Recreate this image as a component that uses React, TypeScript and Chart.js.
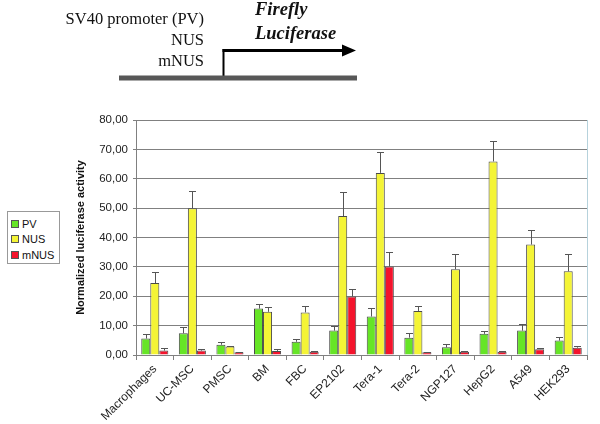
import React, { useEffect, useRef } from "react";
import { Chart, registerables } from "chart.js";

Chart.register(...registerables);

const categories = ["Macrophages", "UC-MSC", "PMSC", "BM", "FBC", "EP2102", "Tera-1", "Tera-2", "NGP127", "HepG2", "A549", "HEK293"];
const seriesNames = ["PV", "NUS", "mNUS"];
const pvValues = [5.6, 7.4, 3.5, 15.8, 4.5, 8.3, 13.1, 5.9, 2.6, 7.2, 8.3, 4.9];
const pvErrors = [1.6, 2.0, 0.9, 1.6, 1.0, 1.5, 2.9, 1.7, 1.0, 1.1, 2.3, 1.2];
const nusValues = [24.5, 50.0, 2.9, 14.7, 14.5, 47.3, 62.0, 15.0, 29.2, 65.9, 37.6, 28.5];
const nusErrors = [3.9, 5.8, 0.3, 1.8, 2.2, 8.3, 7.2, 1.7, 5.2, 7.1, 4.8, 5.9];
const mnusValues = [1.5, 1.5, 0.9, 1.4, 1.1, 19.9, 30.1, 0.9, 1.1, 1.1, 2.0, 2.5];
const mnusErrors = [0.8, 0.5, 0.2, 0.6, 0.4, 2.4, 4.9, 0.2, 0.1, 0.3, 0.4, 0.7];
const yTicks = [0, 10, 20, 30, 40, 50, 60, 70, 80];
const colors = ["#66e526", "#f4f436", "#f4132c"];
const yTitle = "Normalized luciferase activity";

const errorArrays = [pvErrors, nusErrors, mnusErrors];

const errorBarPlugin = {
  id: "errorBars",
  afterDatasetsDraw(chart: any) {
    const ctx = chart.ctx;
    const yScale = chart.scales.y;
    chart.data.datasets.forEach((ds: any, i: number) => {
      const meta = chart.getDatasetMeta(i);
      const errs = errorArrays[i];
      meta.data.forEach((bar: any, j: number) => {
        const v = ds.data[j];
        const yTop = Math.round(yScale.getPixelForValue(v + errs[j])) + 0.5;
        const x = Math.round(bar.x) + 0.5;
        ctx.save();
        ctx.strokeStyle = "#555";
        ctx.lineWidth = 1;
        ctx.beginPath();
        ctx.moveTo(x, bar.y);
        ctx.lineTo(x, yTop);
        ctx.moveTo(x - 3.5, yTop);
        ctx.lineTo(x + 3.5, yTop);
        ctx.stroke();
        ctx.restore();
      });
    });
  },
};

const borderPlugin = {
  id: "plotBorder",
  afterDraw(chart: any) {
    const { ctx, chartArea } = chart;
    ctx.save();
    ctx.strokeStyle = "#b6d2dc";
    ctx.lineWidth = 1;
    ctx.beginPath();
    const x = Math.round(chartArea.right) + 0.5;
    ctx.moveTo(x, chartArea.top);
    ctx.lineTo(x, chartArea.bottom);
    ctx.stroke();
    ctx.restore();
  },
};

export default function App() {
  const canvasRef = useRef<HTMLCanvasElement | null>(null);

  useEffect(() => {
    if (!canvasRef.current) return;
    const valueArrays = [pvValues, nusValues, mnusValues];
    const chart = new Chart(canvasRef.current, {
      type: "bar",
      data: {
        labels: categories,
        datasets: seriesNames.map((name, i) => ({
          label: name,
          data: valueArrays[i],
          backgroundColor: colors[i],
          borderColor: "#4a4a4a",
          borderWidth: 1,
          barPercentage: 1.0,
          categoryPercentage: 0.72,
        })),
      },
      options: {
        responsive: false,
        animation: false,
        devicePixelRatio: 1,
        layout: { padding: { left: 70, top: 120, right: 13, bottom: 0 } },
        plugins: {
          legend: { display: false },
          tooltip: { enabled: false },
        },
        scales: {
          x: {
            grid: {
              display: true,
              drawOnChartArea: false,
              drawTicks: true,
              tickLength: 5,
              color: "#808080",
              offset: true,
            },
            border: { color: "#808080" },
            ticks: {
              autoSkip: false,
              minRotation: 45,
              maxRotation: 45,
              padding: 2,
              color: "#222",
              font: { family: "Arial, 'Liberation Sans', sans-serif", size: 12 },
            },
            afterFit: (scale: any) => {
              scale.height = 69;
            },
          },
          y: {
            min: 0,
            max: 80,
            afterBuildTicks: (scale: any) => {
              scale.ticks = yTicks.map((v) => ({ value: v }));
            },
            grid: { color: "#808080", tickLength: 3 },
            border: { color: "#808080" },
            ticks: {
              padding: 5,
              color: "#222",
              font: { family: "Arial, 'Liberation Sans', sans-serif", size: 11.5 },
              callback: (v: any) => Number(v).toFixed(2).replace(".", ","),
            },
            title: {
              display: true,
              text: yTitle,
              color: "#111",
              padding: { top: 4, bottom: 0 },
              font: { family: "Arial, 'Liberation Sans', sans-serif", size: 11, weight: "bold" },
            },
            afterFit: (scale: any) => {
              scale.width = 66;
            },
          },
        },
      },
      plugins: [errorBarPlugin, borderPlugin],
    });
    return () => chart.destroy();
  }, []);

  const serif = "'Liberation Serif', 'Times New Roman', serif";

  return (
    <div style={{ position: "fixed", left: 0, top: 0, width: 600, height: 424, background: "#fff" }}>
      <canvas ref={canvasRef} width={600} height={424} style={{ position: "absolute", left: 0, top: 0 }} />
      <svg width={600} height={100} style={{ position: "absolute", left: 0, top: 0 }}>
        <text x={204} y={24} textAnchor="end" fontFamily={serif} fontSize={16.5} fill="#111">SV40 promoter (PV)</text>
        <text x={204} y={44.5} textAnchor="end" fontFamily={serif} fontSize={16.5} fill="#111">NUS</text>
        <text x={204} y={65.5} textAnchor="end" fontFamily={serif} fontSize={16.5} fill="#111">mNUS</text>
        <text x={255} y={15} fontFamily={serif} fontSize={18.5} fontWeight="bold" fontStyle="italic" fill="#111">Firefly</text>
        <text x={255} y={38.5} fontFamily={serif} fontSize={18.5} fontWeight="bold" fontStyle="italic" fill="#111">Luciferase</text>
        <line x1={223.5} y1={49} x2={223.5} y2={77} stroke="#000" strokeWidth={2} />
        <line x1={222.5} y1={50.5} x2={345} y2={50.5} stroke="#000" strokeWidth={3} />
        <polygon points="342,44.5 356,50.5 342,56.5" fill="#000" />
        <rect x={119} y={75.5} width={238} height={5} fill="#575757" />
      </svg>
      <div
        style={{
          position: "absolute",
          left: 7,
          top: 211,
          width: 51,
          height: 51,
          border: "1px solid #999",
          background: "#fff",
          fontFamily: "Arial, 'Liberation Sans', sans-serif",
          fontSize: 11,
          color: "#111",
        }}
      >
        {seriesNames.map((name, i) => (
          <div key={name} style={{ position: "absolute", left: 3, top: 5 + i * 15.5, height: 13, display: "flex", alignItems: "center" }}>
            <span style={{ display: "inline-block", width: 6, height: 6, background: colors[i], border: "1px solid #555", marginRight: 3 }} />
            <span>{name}</span>
          </div>
        ))}
      </div>
    </div>
  );
}
